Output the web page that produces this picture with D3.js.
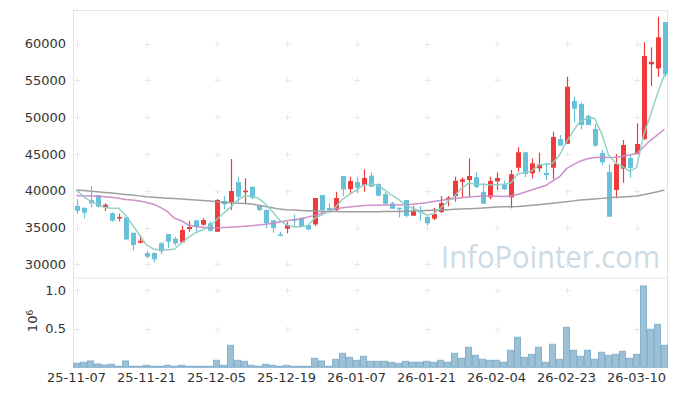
<!DOCTYPE html>
<html>
<head>
<meta charset="utf-8">
<script src="https://cdn.jsdelivr.net/npm/d3@7"></script>
<style>
  body { margin: 0; background: #fff; }
  svg text { font-family: "DejaVu Sans", sans-serif; }
</style>
</head>
<body>
<div class="graph"></div>
<script>
const w = 677;
const h = 396;

// trading days
const dates = ["25-11-07","25-11-10","25-11-11","25-11-12","25-11-13","25-11-14","25-11-17","25-11-18","25-11-19","25-11-20",
  "25-11-21","25-11-24","25-11-25","25-11-26","25-11-27","25-11-28","25-12-01","25-12-02","25-12-03","25-12-04",
  "25-12-05","25-12-08","25-12-09","25-12-10","25-12-11","25-12-12","25-12-15","25-12-16","25-12-17","25-12-18",
  "25-12-19","25-12-22","25-12-23","25-12-24","25-12-26","25-12-29","25-12-30","26-01-02","26-01-05","26-01-06",
  "26-01-07","26-01-08","26-01-09","26-01-12","26-01-13","26-01-14","26-01-15","26-01-16","26-01-19","26-01-20",
  "26-01-21","26-01-22","26-01-23","26-01-26","26-01-27","26-01-28","26-01-29","26-01-30","26-02-02","26-02-03",
  "26-02-04","26-02-05","26-02-06","26-02-09","26-02-10","26-02-11","26-02-12","26-02-13","26-02-19","26-02-20",
  "26-02-23","26-02-24","26-02-25","26-02-26","26-02-27","26-03-03","26-03-04","26-03-05","26-03-06","26-03-09",
  "26-03-10","26-03-11","26-03-12","26-03-13","26-03-16"];

const open = [37920,37690,38740,39420,37740,36930,36290,36380,34290,32930,
  31530,31530,32850,34110,33480,32990,34800,35980,35380,35570,
  34430,38600,38460,41180,39820,40540,38010,37380,35980,34080,
  34840,36150,36330,35340,35430,39420,37650,37380,42000,40230,
  41180,40770,42040,40910,39550,38290,37690,38740,36600,37380,
  36470,36200,37110,38780,39280,41220,41450,41820,39820,39100,
  41280,40870,39100,43130,45220,42360,43040,42410,43130,47020,
  46390,52190,51780,50150,48390,45120,42540,40100,42990,44440,
  44990,47030,57180,56620,62930];
const high = [38830,37690,40640,39420,38290,37100,36870,36470,34290,33940,
  31800,31620,33030,34110,33700,35240,35920,35980,36250,35840,
  38870,39280,44310,41900,41690,40540,38010,37470,35980,34430,
  35790,36790,36330,35340,39010,39420,38290,39860,42000,41900,
  41900,42910,42500,41000,39820,38500,37690,38740,37920,37920,
  36470,37650,39280,39280,41900,41820,44400,42500,41090,41900,
  42500,41360,42810,45900,45300,44400,45170,43800,48020,47570,
  55490,52770,52010,50330,49060,45530,43590,44990,46890,44990,
  49160,60170,59490,63650,62930];
const low = [36830,36250,37740,37740,37240,35790,35840,33260,31850,32850,
  30810,30270,31400,32170,32530,32990,34430,34430,35250,34430,
  34430,37470,37380,38500,38190,38870,37240,34890,34290,33800,
  34210,35200,35110,34620,35200,37240,36930,37240,39280,39650,
  39650,39860,40540,39280,38060,37550,36380,36380,36600,35920,
  35300,36020,36930,37880,38500,39100,39100,40370,38230,38830,
  40100,40100,37610,42580,41860,41680,42540,41450,41550,46120,
  46390,49300,48340,48930,45980,43450,36470,38970,41090,41770,
  44990,46890,54230,55490,55500];
const close = [37280,37010,38290,37830,38100,35920,36430,33390,32620,33200,
  31030,30680,31760,33070,32850,34660,35070,35070,36020,34560,
  38740,38150,39960,39180,40000,39050,37380,35570,34930,33940,
  35340,35920,35110,34760,39010,37380,37380,39010,40190,41320,
  40410,41730,40540,39320,38230,37550,37470,36560,37240,37060,
  35570,36830,38330,39050,41360,41550,42000,40500,38230,41320,
  41730,40190,42230,45220,42270,43720,43590,42130,47300,46120,
  54130,51140,48930,48930,46120,43860,36470,43630,46210,43080,
  46350,58300,57500,60830,55820];

// volume, millions of shares
const volume = [0.052,0.065,0.082,0.043,0.030,0.039,0.013,0.082,0.013,0.013,
  0.026,0.013,0.013,0.026,0.013,0.026,0.013,0.013,0.013,0.013,
  0.091,0.026,0.286,0.091,0.078,0.026,0.013,0.039,0.026,0.013,
  0.026,0.013,0.013,0.013,0.117,0.082,0.013,0.104,0.182,0.130,
  0.091,0.143,0.078,0.078,0.078,0.065,0.052,0.078,0.065,0.065,
  0.078,0.065,0.091,0.065,0.182,0.117,0.260,0.156,0.104,0.091,
  0.091,0.065,0.221,0.390,0.130,0.169,0.260,0.065,0.299,0.104,
  0.519,0.221,0.143,0.221,0.104,0.195,0.156,0.169,0.208,0.117,
  0.169,1.056,0.494,0.558,0.286];

// moving averages as drawn (5, 20, 60 days)
const ma5 = [40100,39180,38600,38150,37740,37610,37610,36700,35340,33980,
  32620,32080,31940,31940,32080,32900,33670,34290,34700,35150,
  36050,36930,37740,38740,39280,39280,38970,38190,37150,36020,
  35340,35110,35110,35200,36250,36700,37150,37740,38830,39500,
  40100,40770,40910,40770,40100,39420,38830,38060,37610,37280,
  36700,36830,37610,38500,39280,40330,41000,40910,40850,40800,
  40800,40870,41000,42270,42450,42680,43490,43590,43720,44850,
  46650,48160,49520,49850,49850,47800,44860,43800,43260,42650,
  43150,47510,50290,53210,55760];
const ma20 = [39320,39300,39280,39250,39180,39100,38970,38800,38740,38600,
  38400,38150,37740,37150,36250,35920,35340,35150,35020,34970,
  34950,34990,35040,35100,35170,35250,35340,35450,35570,35750,
  35920,36050,36200,36400,36650,36950,37250,37500,37680,37800,
  37900,37980,38010,38030,38050,38060,38060,38080,38150,38250,
  38380,38520,38660,38800,38930,39050,39150,39230,39280,39280,
  39250,39230,39280,39500,39800,40100,40400,40700,41300,41900,
  43000,43550,44050,44350,44500,44550,44530,44550,44700,44850,
  45050,45950,46850,47600,48350];
const ma60 = [40100,40020,39930,39850,39760,39680,39590,39500,39410,39300,
  39190,39120,39060,38990,38930,38870,38800,38740,38670,38590,
  38500,38440,38370,38310,38250,38190,38020,37850,37680,37500,
  37420,37370,37320,37280,37250,37220,37190,37170,37150,37150,
  37150,37150,37150,37150,37160,37170,37180,37200,37230,37270,
  37310,37350,37390,37430,37470,37510,37550,37600,37640,37720,
  37800,37820,37830,37870,37940,38010,38090,38180,38290,38400,
  38510,38620,38730,38810,38880,38960,39050,39110,39160,39220,
  39280,39450,39650,39850,40100];

const priceTicks = [30000, 35000, 40000, 45000, 50000, 55000, 60000];
const volTicks = [0.5, 1.0];
const dateTicks = [0, 10, 20, 30, 40, 50, 60, 70, 80];

const left = 73, right = 668;
const priceTop = 10, priceBottom = 277.7;
const volTop = 278.3, volBottom = 367.3;

const svg = d3.select('.graph')
  .append('svg')
  .attr('width', w)
  .attr('height', h);

svg.append('rect').attr('width', w).attr('height', h).attr('fill', '#fff');

const x = d3.scaleBand()
  .domain(d3.range(dates.length))
  .range([left, right]);
const xc = i => x(i) + x.bandwidth() / 2;

const y = d3.scaleLinear().domain([28180, 64560]).range([priceBottom, priceTop]);
const yv = d3.scaleLinear().domain([0, 1.156]).range([volBottom, volTop]);

// watermark
svg.append('text')
  .attr('x', 441)
  .attr('y', 268)
  .attr('textLength', 219)
  .attr('lengthAdjust', 'spacingAndGlyphs')
  .style('font-family', '"Open Sans", sans-serif')
  .style('font-size', '31px')
  .attr('fill', '#bfd3df')
  .attr('opacity', 0.8)
  .text('InfoPointer.com');

// frame
const frame = svg.append('g').attr('stroke', '#e3e3e3').attr('stroke-width', 1);
frame.append('line').attr('x1', left + 0.5).attr('x2', left + 0.5).attr('y1', priceTop).attr('y2', volBottom);
frame.append('line').attr('x1', right - 0.5).attr('x2', right - 0.5).attr('y1', priceTop).attr('y2', volBottom);
frame.append('line').attr('x1', left).attr('x2', right).attr('y1', priceTop + 0.5).attr('y2', priceTop + 0.5);
frame.append('line').attr('x1', left).attr('x2', right).attr('y1', 278).attr('y2', 278);

// grid crosses
const cross = (cx, cy) => {
  svg.append('path')
    .attr('d', `M${cx - 3},${cy}H${cx + 3}M${cx},${cy - 3}V${cy + 3}`)
    .attr('stroke', '#e8e8e8')
    .attr('stroke-width', 1);
};
dateTicks.forEach(i => {
  priceTicks.forEach(p => cross(Math.round(xc(i)) + 0.5, Math.round(y(p)) + 0.5));
  volTicks.forEach(v => cross(Math.round(xc(i)) + 0.5, Math.round(yv(v)) + 0.5));
});

// volume bars
svg.append('g').selectAll('rect')
  .data(volume)
  .enter().append('rect')
  .attr('x', (d, i) => x(i) + 0.5)
  .attr('width', x.bandwidth() - 1)
  .attr('y', d => yv(d))
  .attr('height', d => volBottom - yv(d))
  .attr('fill', '#9cc0d4')
  .attr('stroke', '#86b2cf')
  .attr('stroke-width', 1);

// candles
const upColor = '#ef3b3b';
const downColor = '#67c1d9';
const candle = svg.append('g').selectAll('g')
  .data(dates)
  .enter().append('g')
  .attr('fill', (d, i) => close[i] >= open[i] ? upColor : downColor)
  .attr('stroke', (d, i) => close[i] >= open[i] ? upColor : downColor);

candle.append('line')
  .attr('x1', (d, i) => Math.round(xc(i)) + 0.5)
  .attr('x2', (d, i) => Math.round(xc(i)) + 0.5)
  .attr('y1', (d, i) => y(high[i]))
  .attr('y2', (d, i) => y(low[i]))
  .attr('stroke-width', 1.2);

candle.append('rect')
  .attr('x', (d, i) => Math.round(xc(i)) - 2)
  .attr('width', 5)
  .attr('y', (d, i) => y(Math.max(open[i], close[i])))
  .attr('height', (d, i) => Math.max(1.5, Math.abs(y(open[i]) - y(close[i]))))
  .attr('stroke', 'none');

// moving averages
const line = d3.line().x((d, i) => xc(i)).y(d => y(d));
[[ma60, '#9a9a9a'], [ma20, '#c98bc6'], [ma5, '#8fcfc3']].forEach(([s, c]) => {
  svg.append('path')
    .datum(s)
    .attr('d', line)
    .attr('fill', 'none')
    .attr('stroke', c)
    .attr('stroke-opacity', 0.95)
    .attr('stroke-width', 1.5);
});

// axes
const styleAxis = g => {
  g.select('.domain').remove();
  g.selectAll('text').style('font-size', '13px').style('font-family', '"DejaVu Sans", sans-serif').attr('fill', '#333');
};

svg.append('g')
  .attr('transform', `translate(${left},0)`)
  .call(d3.axisLeft(y).tickValues(priceTicks).tickSize(0).tickPadding(7).tickFormat(d3.format('d')))
  .call(styleAxis);

svg.append('g')
  .attr('transform', `translate(${left},0)`)
  .call(d3.axisLeft(yv).tickValues(volTicks).tickSize(0).tickPadding(7).tickFormat(d3.format('.1f')))
  .call(styleAxis);

svg.append('g')
  .attr('transform', `translate(0,${volBottom})`)
  .call(d3.axisBottom(x).tickValues(dateTicks).tickSize(0).tickPadding(5).tickFormat(i => dates[i]))
  .call(styleAxis);

const unit = svg.append('text')
  .attr('transform', 'translate(37,321) rotate(-90)')
  .attr('text-anchor', 'middle')
  .style('font-size', '13px')
  .attr('fill', '#333');
unit.append('tspan').text('10');
unit.append('tspan').attr('dy', '-0.45em').style('font-size', '9px').text('6');
</script>
</body>
</html>
